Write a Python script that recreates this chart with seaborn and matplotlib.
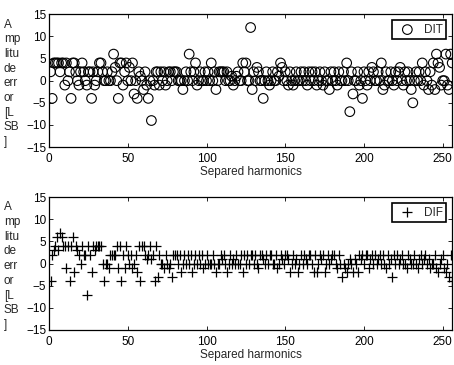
import matplotlib
matplotlib.use("Agg")
import matplotlib.pyplot as plt
import seaborn as sns
import numpy as np
import pandas as pd

dit = [2, -4, 4, 4, 4, 4, 2, 4, 4, -1,
       4, 0, 2, -4, 4, 4, 2, 0, -1, 2,
       4, 2, 0, -1, 2, 2, -4, 2, -1, 0,
       2, 4, 4, 2, 0, 0, 2, 0, 0, 2,
       6, 3, 0, -4, 4, 4, -1, 2, 4, 0,
       3, 0, 4, -3, 0, -4, 2, 1, 0, -2,
       2, -1, -4, 0, -9, 0, -1, 2, 2, -1,
       2, 0, 2, -1, 0, 2, 2, 0, 2, 2,
       2, 0, 0, 0, -2, 0, 2, 0, 6, 2,
       0, 2, 4, -1, 0, 2, 0, 0, 2, 0,
       2, 0, 4, 0, 2, -2, 0, 2, 2, 2,
       2, 0, 2, 0, 0, 1, -1, 0, 1, 2,
       0, 0, 4, 2, 4, 0, 0, 12, -2, 2,
       0, 3, 2, 0, 0, -4, 0, 2, 0, -1,
       0, 2, 0, 0, 2, 1, 4, 3, 0, 2,
       0, -1, 2, 0, -1, 0, 2, 0, 0, 2,
       0, 2, 0, -1, 2, 0, 2, 0, 2, -1,
       0, 2, 0, -1, 2, 0, 0, -2, 2, 0,
       2, 0, -1, 2, 0, 0, 2, 0, 4, 0,
       -7, 2, -3, 0, 0, 2, -1, 0, -4, 2,
       0, -1, 2, 0, 3, 2, 0, 0, 2, 0,
       4, -2, -1, 2, 0, 0, 2, 0, -1, 2,
       0, 2, 3, 0, -1, 2, 0, 2, 0, -2,
       -5, 0, 2, 0, 2, 0, 4, -1, 2, 0,
       -2, 2, -1, 4, -2, 6, 4, 3, -1, 0,
       0, 6, -1, -2, 6, 4]

dif = [-4, 2, 3, 4, 6, 3, 7, 6, 4, 4,
       -1, 4, -4, 4, 6, -2, 4, 3, 2, 0,
       4, 2, 2, -7, 4, 2, -2, 4, 3, 4,
       4, 4, 4, 0, -4, 0, 0, -1, 2, 2,
       2, 2, 4, -1, 4, -4, 2, -1, 4, 2,
       0, 2, -1, 0, 2, -2, 4, -4, 4, 4,
       2, 1, 2, 4, 1, 2, -4, 4, -3, 2,
       0, 0, -1, 2, 0, -1, 0, -3, 2, 2,
       2, 0, 2, -2, 0, 2, 0, 2, 0, 2,
       -2, 0, 2, 0, 2, 0, 2, -1, 0, 2,
       0, 0, 0, 2, 0, -2, 0, 0, 2, 1,
       2, 0, -2, 0, 2, 0, 1, 0, 2, 0,
       0, 2, -2, 2, 0, 2, 0, 2, 2, 0,
       2, 0, -1, 2, 2, 1, 0, 2, 0, 2,
       2, 0, 0, 2, -1, 0, 2, 1, 0, 2,
       2, 1, -2, 0, 2, 0, 1, -2, 0, 2,
       0, 2, 1, 0, 2, 2, 0, -2, 2, -2,
       0, 2, 1, 2, -2, 0, 2, 0, 1, 2,
       2, 0, -1, 2, 0, -3, 0, -1, -2, 0,
       1, 0, -2, 1, 0, -2, 2, 1, 2, 0,
       2, 2, -1, 1, 2, 0, 2, 0, 1, 2,
       0, 2, 0, -1, 2, 0, 1, -3, 2, 0,
       2, 0, 1, 2, 0, 0, -1, 2, 1, 0,
       0, 2, 0, -1, 1, 2, 0, 1, 2, 0,
       1, -1, 0, 0, 2, -1, -2, 0, 1, 2,
       -1, -2, 0, -3, 2, -4]

harmonics = list(range(1, len(dit) + 1))
xticks = [0, 50, 100, 150, 200, 250]
yticks = [-15, -10, -5, 0, 5, 10, 15]
ylabel_text = "A\nmp\nlitu\nde\nerr\nor\n[L\nSB\n]"
xlabel_text = "Separed harmonics"

sns.set_style("ticks")
plt.rcParams['font.family'] = ['Liberation Sans', 'DejaVu Sans']
plt.rcParams['font.size'] = 8.5

fig = plt.figure(figsize=(4.54, 3.65), dpi=100)
ax1 = fig.add_axes([0.108, 0.597, 0.888, 0.364])
ax2 = fig.add_axes([0.108, 0.096, 0.888, 0.364])

df1 = pd.DataFrame({"h": harmonics, "v": dit})
df2 = pd.DataFrame({"h": harmonics, "v": dif})

sns.scatterplot(data=df1, x="h", y="v", ax=ax1, marker="o", s=48,
                facecolors="none", edgecolor="black", linewidth=0.8,
                label="DIT", zorder=3)
sns.scatterplot(data=df2, x="h", y="v", ax=ax2, marker="+", s=60,
                color="black", linewidth=0.9, label="DIF", zorder=3)

for ax in (ax1, ax2):
    ax.set_xlim(0, 256)
    ax.set_ylim(-15, 15)
    ax.set_xticks(xticks)
    ax.set_yticks(yticks)
    ax.tick_params(direction="in", top=True, right=True, length=3,
                   width=0.6, labelsize=8.5, colors="black")
    ax.tick_params(axis="x", pad=4)
    ax.tick_params(axis="y", pad=2)
    for sp in ax.spines.values():
        sp.set_visible(True)
        sp.set_linewidth(0.9)
        sp.set_color("black")
    ax.set_xlabel(xlabel_text, fontsize=8.5, labelpad=1)
    ax.set_ylabel(ylabel_text, rotation=0, ha="left", va="center",
                  fontsize=8.5, linespacing=1.3)
    ax.yaxis.set_label_coords(-0.112, 0.48)
    leg = ax.legend(loc="upper right", frameon=True, fancybox=False,
                    edgecolor="black", fontsize=8.5, borderaxespad=0.5,
                    handletextpad=0.4, borderpad=0.3, markerscale=1.0)
    leg.get_frame().set_linewidth(1.2)
    leg.get_frame().set_alpha(1)

fig.savefig("out.png", dpi=100)
